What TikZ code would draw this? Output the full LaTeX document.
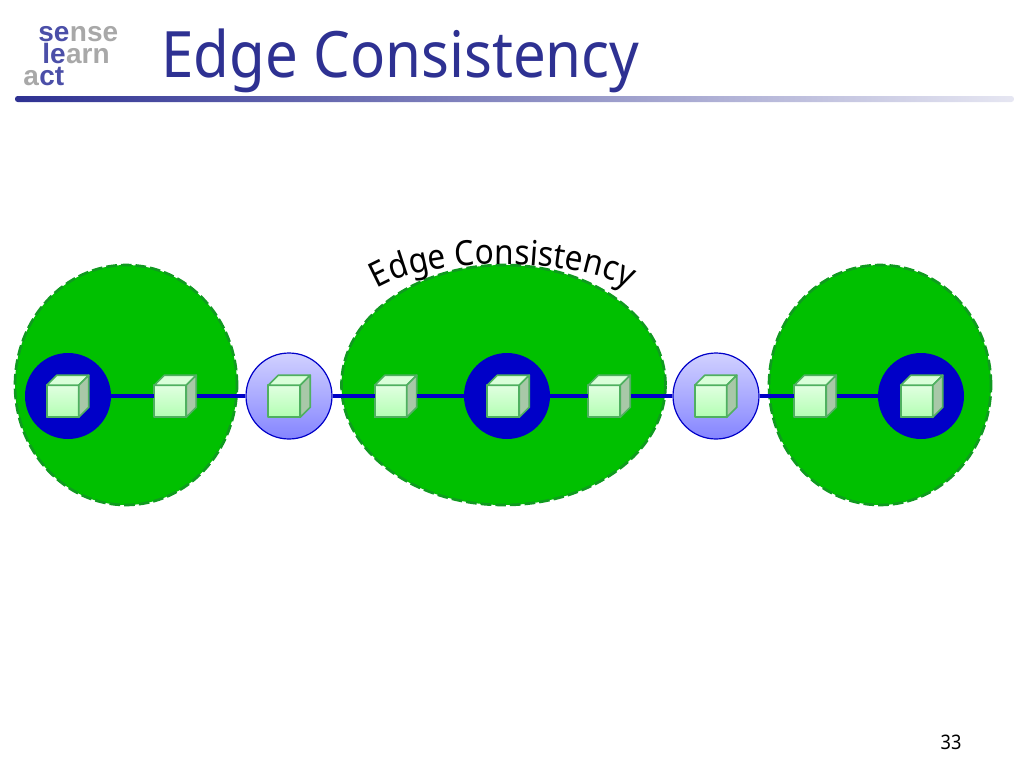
\documentclass[tikz,border=0pt]{standalone}
\usepackage{fontspec}
\setmainfont[FakeStretch=0.91]{Noto Sans}
\newfontfamily\logofont{Liberation Sans}
\usetikzlibrary{shapes.geometric,decorations.text}

\definecolor{titleblue}{HTML}{2E3192}
\definecolor{regiongreen}{HTML}{00C000}
\definecolor{regionedge}{HTML}{109A20}
\definecolor{linkblue}{HTML}{0000C8}
\definecolor{logogrey}{HTML}{A8A8A8}
\definecolor{logoblue}{HTML}{4B4FA8}
\definecolor{cubeedge}{HTML}{4FB060}
\definecolor{cubeside}{HTML}{A8C8A8}

\tikzset{
	region/.style={ellipse,draw=regionedge,fill=regiongreen,line width=2pt,dash pattern=on 8pt off 3pt,minimum height=180pt,inner sep=0pt},
	solid disc/.style={circle,fill=linkblue,minimum size=64.5pt,inner sep=0pt},
	soft disc/.style={circle,draw=linkblue,line width=0.9pt,top color=blue!18!white,bottom color=blue!48!white,minimum size=64.5pt,inner sep=0pt},
	cubebox/.style={minimum width=31.5pt,minimum height=31.5pt,inner sep=0pt},
	cubeface/.style={draw=cubeedge,line width=1.3pt,line join=round},
	link/.style={draw=linkblue,line width=2.8pt},
	logo/.style={font=\logofont\bfseries\fontsize{21}{21}\selectfont,anchor=base west,inner sep=0pt}
}

% cube: name, x (wrapping box is what links attach to)
\newcommand{\cubeat}[2]{
	\node[cubebox] (#1) at (#2,396) {};
	\draw[cubeface,top color=green!12!white,bottom color=green!30!white] (#1.south west) rectangle ++(32,-32);
	\draw[cubeface,fill=green!15!white] (#1.south west) ++(0,-32) -- ++(10,-10) -- ++(32,0) -- ++(-10,10) -- cycle;
	\draw[cubeface,fill=cubeside] (#1.south west) ++(32,0) -- ++(10,-10) -- ++(0,-32) -- ++(-10,10) -- cycle;
}

\begin{document}
\begin{tikzpicture}[x=0.75pt,y=-0.75pt]
	\useasboundingbox (0,0) rectangle (1024,768);

	% header
	\node[logo,text=logoblue] (se) at (38,41) {se};
	\node[logo,text=logogrey,anchor=base west] (nse) at (se.base east) {nse};
	\node[logo,text=logoblue] (le) at (42,63) {le};
	\node[logo,text=logogrey,anchor=base west] (arn) at (le.base east) {arn};
	\node[logo,text=logogrey] (a) at (23,85) {a};
	\node[logo,text=logoblue,anchor=base west] (ct) at (a.base east) {ct};
	\node[anchor=base west,inner sep=0pt,text=titleblue,font=\fontsize{48}{48}\selectfont] (title) at (161,77) {Edge Consistency};
	\shade[left color=titleblue,middle color=titleblue!88!white,right color=titleblue!12!white,rounded corners=2pt] (15,96) rectangle (1014,102);

	% regions
	\node[region,minimum width=166.5pt] (left) at (126,385) {};
	\node[region,minimum width=243pt] (mid) at (503.5,385) {};
	\node[region,minimum width=166.5pt] (right) at (880,385) {};

	% discs
	\node[solid disc] (d1) at (68,396) {};
	\node[solid disc] (d2) at (507,396) {};
	\node[solid disc] (d3) at (921,396) {};
	\node[soft disc] (s1) at (289,396) {};
	\node[soft disc] (s2) at (716,396) {};

	% cubes
	\cubeat{q1}{68}
	\cubeat{c1}{175.5}
	\cubeat{q2}{289.5}
	\cubeat{c2}{396}
	\cubeat{q3}{508.5}
	\cubeat{c3}{609.5}
	\cubeat{q4}{716}
	\cubeat{c4}{815.5}
	\cubeat{q5}{922}

	% links
	\draw[link] (d1) -- (c1);
	\draw[link] (c1) -- (s1);
	\draw[link] (s1) -- (c2);
	\draw[link] (c2) -- (d2);
	\draw[link] (d2) -- (c3);
	\draw[link] (c3) -- (s2);
	\draw[link] (s2) -- (c4);
	\draw[link] (c4) -- (d3);

	% curved label
	\path[decorate,decoration={text along path,text align=center,text={|\fontsize{26}{26}\selectfont|Edge Consistency}}] (372,292) .. controls (420,255) and (580,255) .. (634,292);

	\node[inner sep=0pt,font=\fontsize{15}{15}\selectfont] (page) at (951,742) {33};
\end{tikzpicture}
\end{document}
